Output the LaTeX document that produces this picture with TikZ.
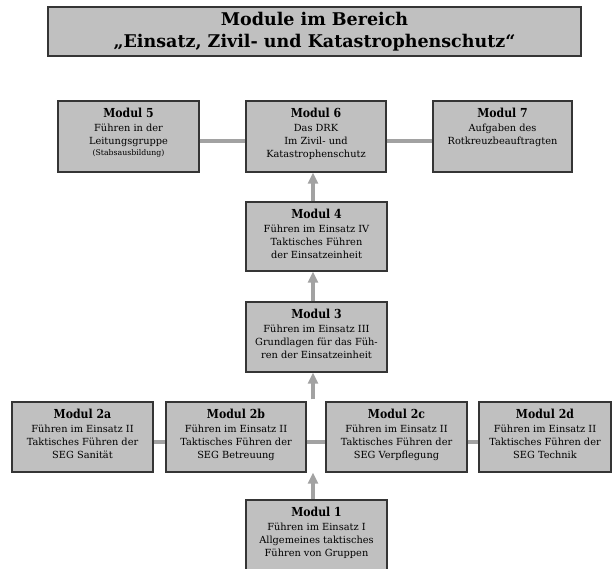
\documentclass[tikz,border=0pt]{standalone}
\usepackage{fontspec}
\setmainfont{DejaVu Serif}
\newfontfamily\hdfont{DejaVu Serif}[FakeStretch=0.88]
\usetikzlibrary{arrows.meta,fit}
\definecolor{boxfill}{HTML}{C0C0C0}
\definecolor{boxline}{HTML}{353535}
\definecolor{conn}{HTML}{A2A2A2}
\newcommand\mbx[6]{%
  \node[modbox, fit={(#2,#3) (#4,#5)}] (#1) {};
  \node[modtxt] (#1t) at ([yshift=-7.4pt]#1.north) {#6};}
\newcommand\hd[1]{{\hdfont\fontsize{12.4}{13}\selectfont\bfseries #1}}
\begin{document}
\begin{tikzpicture}[x=1pt,y=-1pt,
  modbox/.style={draw=boxline, line width=1.3pt, fill=boxfill, rectangle, inner sep=0pt},
  modtxt/.style={anchor=north, align=center, inner sep=0pt, font=\fontsize{9.8}{13.3}\selectfont},
  titletxt/.style={align=center, inner sep=0pt, font=\fontsize{17.5}{22}\selectfont\bfseries},
  conn/.style={draw=conn, line width=4pt},
  arr/.style={conn, -{Triangle[width=10pt,length=11pt]}}]
\useasboundingbox (0,0) rectangle (612,569);
\clip (0,0) rectangle (612,569);
\coordinate (ax) at (313,0);
% title
\node[modbox, fit={(48,7) (581,56)}] (title) {};
\node[titletxt] (titlet) at (title.center) {Module im Bereich\\„Einsatz, Zivil- und Katastrophenschutz“};
% top row
\mbx{m5}{58}{101}{199}{172}{\hd{Modul 5}\\[0.7pt]Führen in der\\Leitungsgruppe\\[-2.3pt]{\fontsize{7.8}{9}\selectfont(Stabsausbildung)}}
\mbx{m6}{246}{101}{386}{172}{\hd{Modul 6}\\[0.7pt]Das DRK\\Im Zivil- und\\Katastrophenschutz}
\mbx{m7}{433}{101}{572}{172}{\hd{Modul 7}\\[0.7pt]Aufgaben des\\Rotkreuzbeauftragten}
% middle column
\mbx{m4}{246}{202}{387}{271}{\hd{Modul 4}\\[0.7pt]Führen im Einsatz IV\\Taktisches Führen\\der Einsatzeinheit}
\mbx{m3}{246}{302}{387}{372}{\hd{Modul 3}\\[0.7pt]Führen im Einsatz III\\Grundlagen für das Füh-\\ren der Einsatzeinheit}
% row 2
\mbx{m2a}{12}{402}{153}{472}{\hd{Modul 2a}\\[0.7pt]Führen im Einsatz II\\Taktisches Führen der\\SEG Sanität}
\mbx{m2b}{166}{402}{306}{472}{\hd{Modul 2b}\\[0.7pt]Führen im Einsatz II\\Taktisches Führen der\\SEG Betreuung}
\mbx{m2c}{326}{402}{467}{472}{\hd{Modul 2c}\\[0.7pt]Führen im Einsatz II\\Taktisches Führen der\\SEG Verpflegung}
\mbx{m2d}{479}{402}{611}{472}{\hd{Modul 2d}\\[0.7pt]Führen im Einsatz II\\Taktisches Führen der\\SEG Technik}
% bottom
\mbx{m1}{246}{500}{387}{580}{\hd{Modul 1}\\[0.7pt]Führen im Einsatz I\\Allgemeines taktisches\\Führen von Gruppen}
% connectors
\draw[conn] ([yshift=-5pt]m5.east) -- ([yshift=-5pt]m6.west);
\draw[conn] ([yshift=-5pt]m6.east) -- ([yshift=-5pt]m7.west);
\draw[conn] ([yshift=-5pt]m2a.east) -- ([yshift=-5pt]m2b.west);
\draw[conn] ([yshift=-5pt]m2b.east) -- ([yshift=-5pt]m2c.west);
\draw[conn] ([yshift=-5pt]m2c.east) -- ([yshift=-5pt]m2d.west);
\draw[arr] (m4.north -| ax) -- (m6.south -| ax);
\draw[arr] (m3.north -| ax) -- (m4.south -| ax);
\draw[arr] ([yshift=2pt]m2b.north -| ax) -- (m3.south -| ax);
\draw[arr] (m1.north -| ax) -- (m2b.south -| ax);
\end{tikzpicture}
\end{document}
